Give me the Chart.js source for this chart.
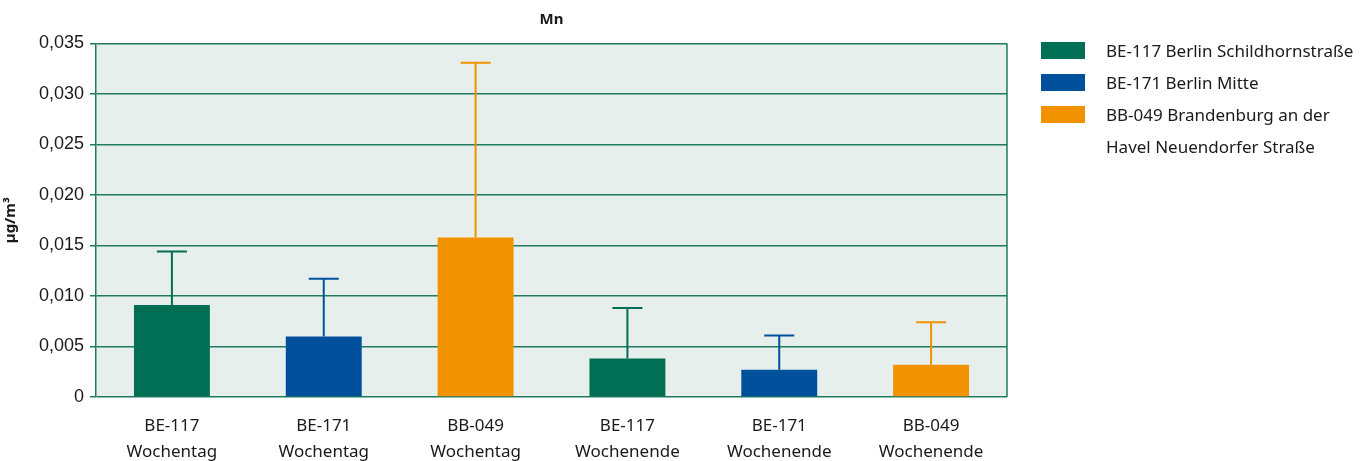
<!DOCTYPE html>
<html lang="de">
<head>
    <meta charset="UTF-8">
    <title>Mn</title>
    <script src="https://cdn.jsdelivr.net/npm/chart.js"></script>
    <style>
        html, body { margin: 0; padding: 0; background: #fff; }
        #wrap { position: relative; width: 1367px; height: 461px; }
        #legend { position: absolute; left: 1041px; top: 42px; font-family: "Noto Sans", sans-serif; font-size: 17px; color: #1a1a1a; }
        .item { display: flex; align-items: flex-start; margin-bottom: 0; height: 32px; }
        .box { width: 44px; height: 17px; margin-right: 21px; flex: none; }
        .txt { line-height: 32px; margin-top: -7px; width: 250px; }
    </style>
</head>
<body>
<div id="wrap">
    <canvas id="chart" width="1367" height="461"></canvas>
    <div id="legend"></div>
</div>
<script>
    // data
    const stations = ['BE-117', 'BE-171', 'BB-049', 'BE-117', 'BE-171', 'BB-049'];
    const periods = ['Wochentag', 'Wochentag', 'Wochentag', 'Wochenende', 'Wochenende', 'Wochenende'];
    const seriesNames = ['BE-117 Berlin Schildhornstraße', 'BE-171 Berlin Mitte', 'BB-049 Brandenburg an der Havel Neuendorfer Straße'];
    const seriesColors = ['#006f53', '#00509c', '#f39200'];
    const barSeries = [0, 1, 2, 0, 1, 2];
    const meanValues = [0.0091, 0.0060, 0.0158, 0.0038, 0.0027, 0.0032];
    const upperValues = [0.0144, 0.0117, 0.0331, 0.0088, 0.0061, 0.0074];
    const yTicks = [0, 0.005, 0.010, 0.015, 0.020, 0.025, 0.030, 0.035];

    const labels = stations.map((s, i) => [s, periods[i]]);
    const datasets = seriesNames.map((name, k) => ({
        label: name,
        data: meanValues.map((v, i) => barSeries[i] === k ? v : null),
        upper: upperValues.map((v, i) => barSeries[i] === k ? v : null),
        backgroundColor: seriesColors[k],
        borderWidth: 0,
        barPercentage: 0.5,
        categoryPercentage: 1,
        grouped: false
    }));

    const gridColor = '#1e7b62';

    const plotBg = {
        id: 'plotBg',
        beforeDraw(chart) {
            const a = chart.chartArea, ctx = chart.ctx;
            ctx.save();
            ctx.fillStyle = '#e6efec';
            ctx.fillRect(a.left, a.top, a.right - a.left, a.bottom - a.top);
            ctx.restore();
        },
        afterDraw(chart) {
            const a = chart.chartArea, ctx = chart.ctx;
            ctx.save();
            ctx.strokeStyle = gridColor;
            ctx.lineWidth = 1.5;
            ctx.beginPath();
            ctx.moveTo(a.right, a.top);
            ctx.lineTo(a.right, a.bottom);
            ctx.stroke();
            // chart title, centred over the plot area
            ctx.fillStyle = '#1a1a1a';
            ctx.font = 'bold 15px "Noto Sans"';
            ctx.textAlign = 'center';
            ctx.textBaseline = 'middle';
            ctx.fillText('Mn', (a.left + a.right) / 2, 20);
            ctx.restore();
        }
    };

    const errorBars = {
        id: 'errorBars',
        afterDatasetsDraw(chart) {
            const ctx = chart.ctx, y = chart.scales.y;
            chart.data.datasets.forEach((ds, k) => {
                const meta = chart.getDatasetMeta(k);
                meta.data.forEach((bar, i) => {
                    if (ds.data[i] == null) return;
                    const top = y.getPixelForValue(ds.upper[i]);
                    ctx.save();
                    ctx.strokeStyle = ds.backgroundColor;
                    ctx.lineWidth = 2;
                    ctx.beginPath();
                    ctx.moveTo(bar.x, bar.y);
                    ctx.lineTo(bar.x, top);
                    ctx.moveTo(bar.x - 15, top);
                    ctx.lineTo(bar.x + 15, top);
                    ctx.stroke();
                    ctx.restore();
                });
            });
        }
    };

    new Chart(document.getElementById('chart'), {
        type: 'bar',
        data: { labels: labels, datasets: datasets },
        plugins: [plotBg, errorBars],
        options: {
            responsive: false,
            animation: false,
            layout: { padding: { right: 360, left: 0, bottom: 0, top: 43.5 } },
            plugins: {
                legend: { display: false },
                tooltip: { enabled: false },
                title: { display: false }
            },
            scales: {
                x: {
                    grid: { display: false },
                    border: { display: false },
                    ticks: {
                        color: '#1a1a1a',
                        font: { family: 'Noto Sans', size: 17, lineHeight: 1.55 },
                        padding: 8,
                        maxRotation: 0
                    },
                    afterFit(s) { s.height = 64; }
                },
                y: {
                    min: 0,
                    max: 0.035,
                    afterBuildTicks(s) { s.ticks = yTicks.map(v => ({ value: v })); },
                    grid: { color: gridColor, lineWidth: 1.5, tickLength: 6 },
                    border: { color: gridColor, width: 1.5 },
                    ticks: {
                        color: '#1a1a1a',
                        font: { family: 'Liberation Sans', size: 18 },
                        padding: 6,
                        callback: v => v === 0 ? '0' : v.toFixed(3).replace('.', ',')
                    },
                    title: {
                        display: true,
                        text: 'µg/m³',
                        color: '#1a1a1a',
                        font: { family: 'Noto Sans', size: 15, weight: 'bold' },
                        padding: { top: 2, bottom: 0 }
                    },
                    afterFit(s) { s.width = 96; }
                }
            }
        }
    });

    const legend = document.getElementById('legend');
    seriesNames.forEach((name, k) => {
        const row = document.createElement('div');
        row.className = 'item';
        row.innerHTML = '<div class="box" style="background:' + seriesColors[k] + '"></div><div class="txt">' + name + '</div>';
        legend.appendChild(row);
    });
</script>
</body>
</html>
